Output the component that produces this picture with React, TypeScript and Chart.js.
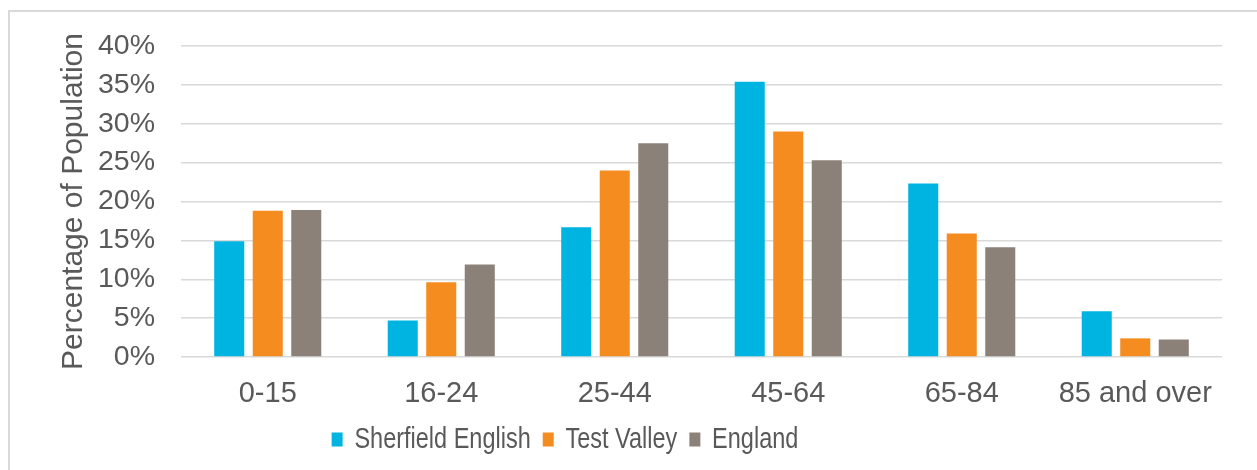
import React, { useEffect, useRef } from "react";
import { Chart, registerables } from "chart.js";

Chart.register(...registerables);

const categories = ["0-15", "16-24", "25-44", "45-64", "65-84", "85 and over"];
const sherfield = [14.9, 4.7, 16.7, 35.4, 22.3, 5.9];
const testValley = [18.8, 9.6, 24.0, 29.0, 15.9, 2.4];
const england = [18.9, 11.9, 27.5, 25.3, 14.1, 2.25];
const seriesNames = ["Sherfield English", "Test Valley", "England"];
const seriesColors = ["#00B4E1", "#F58C20", "#8B8178"];
const yTitle = "Percentage of Population";

const FONT = "'Liberation Sans', Arial, sans-serif";
const TEXT = "#595959";

const legendStretch = {
  id: "legendStretch",
  afterInit(chart: any) {
    const lg = chart.legend;
    if (!lg || lg._patched) return;
    const orig = lg.draw.bind(lg);
    lg.draw = function (area: any) {
      const ctx = chart.ctx;
      const cy = (lg.top + lg.bottom) / 2;
      ctx.save();
      ctx.translate(-74, cy);
      ctx.scale(1, 1.27);
      ctx.translate(0, -cy);
      orig(area);
      ctx.restore();
    };
    lg._patched = true;
  },
};

export default function App() {
  const ref = useRef<HTMLCanvasElement | null>(null);
  useEffect(() => {
    if (!ref.current) return;
    const data = [sherfield, testValley, england];
    const chart = new Chart(ref.current, {
      type: "bar",
      data: {
        labels: categories,
        datasets: data.map((d, i) => ({
          label: seriesNames[i],
          data: d,
          backgroundColor: seriesColors[i],
          borderWidth: 0,
          categoryPercentage: 0.666,
          barPercentage: 0.78,
        })),
      },
      plugins: [legendStretch],
      options: {
        animation: false,
        responsive: false,
        maintainAspectRatio: false,
        layout: { padding: { left: 56, top: 46, right: 35, bottom: 9 } },
        plugins: {
          tooltip: { enabled: false },
          legend: {
            position: "bottom",
            labels: {
              boxWidth: 11,
              boxHeight: 11,
              padding: 12,
              color: TEXT,
              font: { family: FONT, size: 23.5 },
            },
          },
        },
        scales: {
          x: {
            grid: { display: false, drawTicks: false },
            border: { display: false },
            ticks: { color: TEXT, font: { family: FONT, size: 29 }, padding: 20, maxRotation: 0 },
            afterFit: (s: any) => { s.height = 58.5; },
          },
          y: {
            min: 0,
            max: 40,
            grid: { color: "#d9d9d9", lineWidth: 1.5, drawTicks: false },
            border: { display: false },
            ticks: {
              stepSize: 5,
              color: TEXT,
              font: { family: FONT, size: 28.5 },
              padding: 26,
              callback: (v: any) => v + "%",
            },
            title: {
              display: true,
              text: yTitle,
              color: TEXT,
              font: { family: FONT, size: 30 },
              padding: 0,
            },
            afterFit: (s: any) => { s.width = 125; },
          },
        },
      },
    });
    return () => chart.destroy();
  }, []);
  return (
    <>
      <div
        style={{
          position: "fixed",
          left: 8,
          top: 10,
          width: 1260,
          height: 470,
          borderTop: "2px solid #d9d9d9",
          borderLeft: "2px solid #d9d9d9",
          boxSizing: "border-box",
        }}
      />
      <canvas
        ref={ref}
        width={1257}
        height={470}
        style={{ position: "fixed", left: 0, top: 0, width: 1257, height: 470 }}
      />
    </>
  );
}
